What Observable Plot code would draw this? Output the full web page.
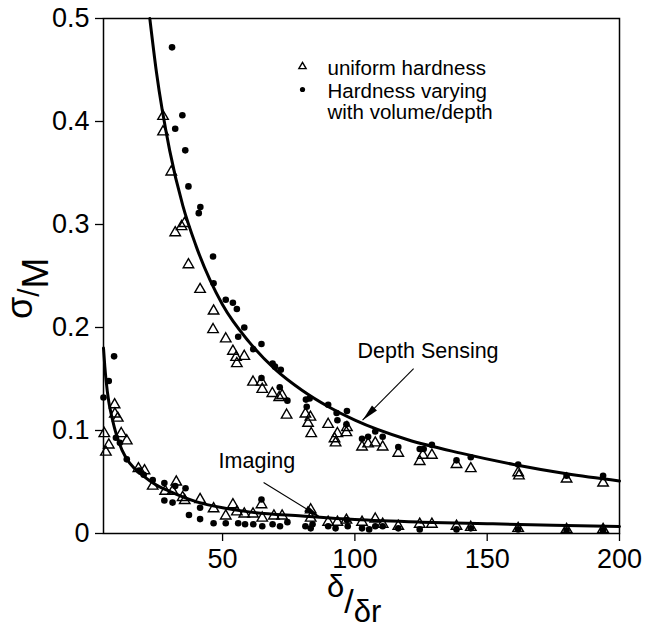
<!DOCTYPE html>
<html>
<head>
<meta charset="utf-8">
<script src="https://cdn.jsdelivr.net/npm/d3@7"></script>
<script src="https://cdn.jsdelivr.net/npm/@observablehq/plot@0.6"></script>
<style>
  html, body { margin: 0; padding: 0; background: white; }
  #chart svg { display: block; }
</style>
</head>
<body>
<div id="chart"></div>
<script>
// ---- Data ----
const xTicks = [50, 100, 150, 200];
const yTicks = [0, 0.1, 0.2, 0.3, 0.4, 0.5];

// Depth sensing, uniform hardness (triangles)
const depthUniX = [27.5,27.5,30.6,32.1,34.5,35.6,37.1,41.5,46.6,46.4,51.2,53.9,55.1,55.4,58.2,61.5,64.7,65,68.8,71.4,72.5,74.2,81.3,82.3,83.5,83.2,89.9,92.3,92.7,93.4,96.8,97,102.7,105,107.7,110.5,116.4,124.5,125.7,129.1,138.4,143.8,161.7,162,180,193.8];
const depthUniY = [0.405,0.390,0.351,0.292,0.298,0.301,0.261,0.237,0.216,0.198,0.189,0.177,0.171,0.165,0.172,0.147,0.147,0.140,0.136,0.132,0.134,0.115,0.116,0.107,0.097,0.113,0.106,0.092,0.088,0.097,0.098,0.103,0.084,0.087,0.088,0.084,0.078,0.070,0.076,0.076,0.067,0.063,0.059,0.056,0.053,0.049];

// Depth sensing, hardness varying (dots)
const depthVarX = [30.9,34.8,32.1,35.9,37.1,41.6,41,46.4,46.6,51.2,53.9,55.4,55.9,58.2,61.6,64.7,64.7,68.9,69.8,72,71.6,74.5,81.5,82.9,81.8,89.9,93.1,93.4,97,96.8,102.7,105,107.7,110.5,116.4,124.5,126,129.1,138.4,143.8,161.7,180,193.8];
const depthVarY = [0.472,0.406,0.393,0.372,0.337,0.317,0.311,0.269,0.243,0.227,0.224,0.218,0.191,0.200,0.179,0.184,0.151,0.165,0.162,0.159,0.142,0.129,0.130,0.131,0.123,0.125,0.117,0.110,0.119,0.106,0.092,0.094,0.099,0.094,0.084,0.082,0.082,0.086,0.071,0.074,0.067,0.056,0.056];

// Imaging, uniform hardness (triangles)
const imgUniX = [5.3,5.9,7,9.2,9.3,10.4,11.7,13.8,18.2,20.5,23.6,28.3,31.1,32.5,34.9,35.7,41.5,46.6,51.2,53.9,55.4,58.2,61.5,64.7,65,69.4,72.5,83.3,83.3,89.9,93.4,96.8,102.7,107.7,110.5,116.4,124.5,129.1,138.4,143.8,161.7,180,193.8];
const imgUniY = [0.097,0.079,0.086,0.125,0.116,0.112,0.097,0.090,0.063,0.061,0.046,0.041,0.041,0.050,0.035,0.032,0.033,0.024,0.017,0.028,0.021,0.019,0.019,0.028,0.015,0.017,0.017,0.023,0.015,0.011,0.011,0.013,0.011,0.014,0.009,0.007,0.009,0.009,0.007,0.006,0.005,0.004,0.004];

// Imaging, hardness varying (dots)
const imgVarX = [5,7,9,9.7,11.2,13.8,18.5,20.2,23.6,28,28,31.1,32.1,36,37.3,41.5,41.5,46.6,51.2,55.9,58.5,61.6,64.7,65,68.9,71.7,74.5,81.3,83.3,84,89.9,92.7,97,97.3,102.7,105.4,107.7,110.5,116.4,124.5,138.4,143.8,161.7,180,193.8];
const imgVarY = [0.132,0.148,0.172,0.093,0.088,0.072,0.061,0.057,0.052,0.049,0.032,0.030,0.046,0.044,0.018,0.025,0.014,0.010,0.010,0.010,0.009,0.009,0.033,0.007,0.009,0.007,0.011,0.007,0.005,0.009,0.007,0.005,0.013,0.007,0.005,0.004,0.007,0.007,0.005,0.004,0.004,0.005,0.004,0.003,0.003];

// Fitted curves
const depthCurveX = [22.5,25,30,35,40,50,60,70,80,90,100,120,140,160,180,200];
const depthCurveY = [0.5,0.448,0.372,0.318,0.279,0.222,0.186,0.159,0.139,0.123,0.110,0.091,0.078,0.067,0.058,0.051];
const imgCurveX = [5,5.5,6,7,8,9,10,12,15,20,25,30,40,50,60,80,100,125,150,175,200];
const imgCurveY = [0.18,0.162,0.148,0.128,0.115,0.104,0.095,0.081,0.068,0.056,0.047,0.041,0.031,0.025,0.021,0.017,0.0135,0.011,0.0095,0.008,0.0068];

// Annotations
const annoLabels = ["Depth Sensing", "Imaging"];
const annoLabelX = [101, 48.5];
const annoLabelY = [0.177, 0.070];
const arrowX1 = [122.2, 65.5];
const arrowY1 = [0.160, 0.0495];
const arrowX2 = [102.9, 87];
const arrowY2 = [0.110, 0.0155];
const arrowRotate = [224.5, 121.6];

const legendLabels = ["uniform hardness", "Hardness varying", "with volume/depth"];

// ---- Build tables ----
const zip = (xs, ys) => xs.map((x, i) => ({x, y: ys[i]}));
const depthUni = zip(depthUniX, depthUniY);
const depthVar = zip(depthVarX, depthVarY);
const imgUni = zip(imgUniX, imgUniY);
const imgVar = zip(imgVarX, imgVarY);
const depthCurve = zip(depthCurveX, depthCurveY);
const imgCurve = zip(imgCurveX, imgCurveY);
const annos = annoLabels.map((t, i) => ({t, x: annoLabelX[i], y: annoLabelY[i]}));
const arrows = arrowX1.map((x1, i) => ({x1, y1: arrowY1[i], x2: arrowX2[i], y2: arrowY2[i], r: arrowRotate[i]}));

// narrow filled arrowhead, tip at origin pointing "up"
const headSymbol = {
  draw(context) {
    context.moveTo(0, 0);
    context.lineTo(-3.5, 17);
    context.lineTo(3.5, 17);
    context.closePath();
  }
};

const FONT = "'Liberation Sans', Arial, Helvetica, sans-serif";

const chart = Plot.plot({
  width: 645,
  height: 632,
  marginLeft: 103,
  marginRight: 26,
  marginTop: 18,
  marginBottom: 99,
  style: {fontFamily: FONT, fontSize: "27px", color: "black", background: "white"},
  x: {domain: [5, 200], label: null},
  y: {domain: [0, 0.5], label: null},
  marks: [
    Plot.axisX({ticks: xTicks, tickSize: 8, tickPadding: 7, fontSize: 27, label: null, strokeWidth: 1.3}),
    Plot.axisY({ticks: yTicks, tickSize: 8, tickPadding: 6, fontSize: 27, label: null, strokeWidth: 1.3,
      tickFormat: d => d === 0 ? "0" : d.toFixed(1)}),
    Plot.frame({stroke: "black", strokeWidth: 1.5}),
    Plot.line(depthCurve, {x: "x", y: "y", stroke: "black", strokeWidth: 3, curve: "monotone-x"}),
    Plot.line(imgCurve, {x: "x", y: "y", stroke: "black", strokeWidth: 3, curve: "monotone-x"}),
    Plot.dot(depthVar, {x: "x", y: "y", r: 3.3, fill: "black", stroke: null}),
    Plot.dot(imgVar, {x: "x", y: "y", r: 3.3, fill: "black", stroke: null}),
    Plot.dot(depthUni, {x: "x", y: "y", symbol: "triangle", r: 3.9, fill: "none", stroke: "black", strokeWidth: 1.4}),
    Plot.dot(imgUni, {x: "x", y: "y", symbol: "triangle", r: 3.9, fill: "none", stroke: "black", strokeWidth: 1.4}),
    Plot.link(arrows, {x1: "x1", y1: "y1", x2: "x2", y2: "y2", stroke: "black", strokeWidth: 1.1}),
    Plot.dot(arrows, {x: "x2", y: "y2", symbol: headSymbol, rotate: "r", fill: "black", stroke: null}),
    Plot.text(annos, {x: "x", y: "y", text: "t", textAnchor: "start", lineAnchor: "middle", fontSize: 21.5, fill: "black"}),
    // legend
    Plot.dot([0], {frameAnchor: "top-left", dx: 199, dy: 48, symbol: "triangle", r: 2.7, fill: "none", stroke: "black", strokeWidth: 1.4}),
    Plot.dot([0], {frameAnchor: "top-left", dx: 199, dy: 71, r: 2.6, fill: "black", stroke: null}),
    Plot.text([legendLabels[0]], {frameAnchor: "top-left", dx: 224, dy: 50, text: d => d, textAnchor: "start", lineAnchor: "middle", fontSize: 20.5, fill: "black"}),
    Plot.text([legendLabels[1]], {frameAnchor: "top-left", dx: 224, dy: 73, text: d => d, textAnchor: "start", lineAnchor: "middle", fontSize: 20.5, fill: "black"}),
    Plot.text([legendLabels[2]], {frameAnchor: "top-left", dx: 224, dy: 94, text: d => d, textAnchor: "start", lineAnchor: "middle", fontSize: 20.5, fill: "black"})
  ]
});

document.getElementById("chart").appendChild(chart);

// Axis titles with fraction-style layout
const svg = d3.select(chart);
const yl = svg.append("text")
  .attr("transform", "rotate(-90)")
  .attr("x", -319).attr("y", 32)
  .attr("text-anchor", "start")
  .attr("font-family", FONT).attr("font-size", 36).attr("fill", "black");
yl.append("tspan").text("σ");
yl.append("tspan").attr("dy", 7).attr("font-size", 30).text("/");
yl.append("tspan").attr("dy", 9).attr("font-size", 37).text("M");

const xl = svg.append("text")
  .attr("x", 327).attr("y", 597)
  .attr("text-anchor", "start")
  .attr("font-family", FONT).attr("font-size", 31).attr("fill", "black");
xl.append("tspan").text("δ");
xl.append("tspan").attr("dy", 16).attr("font-size", 34).text("/");
xl.append("tspan").attr("dy", 9).text("δ");
xl.append("tspan").text("r");
</script>
</body>
</html>
